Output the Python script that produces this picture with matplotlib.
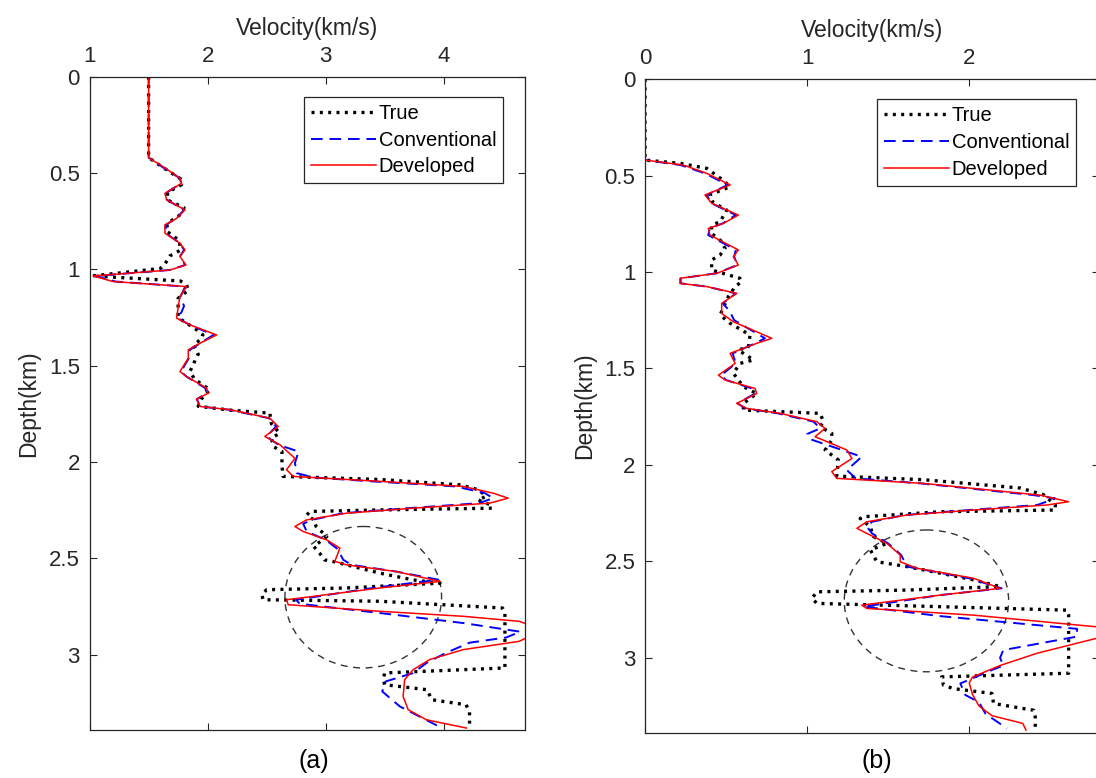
import matplotlib
matplotlib.use("Agg")
import matplotlib.pyplot as plt
from matplotlib.patches import Ellipse

plt.rcParams['font.family'] = ['Liberation Sans', 'DejaVu Sans']

# ---- panel (a) ----
true_a_depth = [0, 0.42, 0.47, 0.53, 0.56, 0.60, 0.64, 0.68, 0.72, 0.76, 0.80, 0.85, 0.90, 0.93, 0.97, 0.995,
                1.034, 1.06, 1.08, 1.106, 1.15, 1.25, 1.31, 1.34, 1.365, 1.39, 1.44, 1.49, 1.53, 1.57, 1.625,
                1.67, 1.71, 1.73, 1.746, 1.763, 1.80, 1.85, 1.876, 1.92, 1.945, 2.02, 2.074, 2.09, 2.118,
                2.144, 2.178, 2.196, 2.222, 2.239, 2.248, 2.256, 2.274, 2.30, 2.334, 2.386, 2.438, 2.473,
                2.507, 2.515, 2.576, 2.611, 2.628, 2.653, 2.662, 2.688, 2.714, 2.722, 2.757, 2.783, 3.068,
                3.094, 3.129, 3.155, 3.181, 3.233, 3.259, 3.294, 3.37]
true_a_vel = [1.5, 1.5, 1.62, 1.77, 1.78, 1.66, 1.66, 1.80, 1.76, 1.66, 1.65, 1.76, 1.77, 1.68, 1.64, 1.60,
              1.02, 1.77, 1.82, 1.84, 1.75, 1.75, 1.90, 1.96, 1.94, 1.88, 1.92, 1.88, 1.85, 1.89, 2.02,
              1.95, 1.92, 2.19, 2.53, 2.53, 2.54, 2.61, 2.54, 2.56, 2.63, 2.63, 2.64, 3.46, 4.14,
              4.30, 4.36, 4.29, 4.40, 4.41, 3.46, 2.87, 2.84, 2.90, 2.92, 3.01, 2.90, 2.95,
              2.99, 3.06, 3.46, 3.74, 3.97, 3.18, 2.50, 2.46, 2.47, 3.46, 4.50, 4.52, 4.52,
              3.50, 3.49, 3.50, 3.86, 3.90, 4.19, 4.22, 4.22]

conv_a_depth = [0, 0.42, 0.47, 0.527, 0.553, 0.605, 0.639, 0.691, 0.735, 0.769, 0.812, 0.864, 0.899, 0.933,
                0.977, 1.003, 1.034, 1.063, 1.089, 1.141, 1.19, 1.22, 1.253, 1.288, 1.340, 1.374, 1.417,
                1.461, 1.530, 1.556, 1.616, 1.642, 1.673, 1.711, 1.728, 1.772, 1.815, 1.867, 1.910, 1.945,
                2.005, 2.057, 2.08, 2.100, 2.126, 2.161, 2.187, 2.213, 2.239, 2.265, 2.300, 2.32, 2.360,
                2.403, 2.45, 2.507, 2.533, 2.568, 2.61, 2.653, 2.714, 2.735, 2.783, 2.835, 2.88, 2.91,
                2.937, 2.99, 3.04, 3.095, 3.138, 3.19, 3.268, 3.37]
conv_a_vel = [1.5, 1.5, 1.62, 1.765, 1.775, 1.645, 1.655, 1.80, 1.735, 1.645, 1.645, 1.765, 1.80, 1.765,
              1.81, 1.68, 1.05, 1.22, 1.81, 1.77, 1.80, 1.78, 1.745, 1.85, 2.05, 1.96, 1.85,
              1.84, 1.775, 1.82, 1.98, 1.99, 1.91, 1.935, 2.18, 2.52, 2.58, 2.50, 2.60, 2.77,
              2.74, 2.755, 2.9, 3.40, 4.10, 4.35, 4.42, 4.30, 3.70, 3.15, 2.88, 2.81, 2.84,
              3.00, 3.10, 3.15, 3.22, 3.60, 3.955, 3.40, 2.75, 2.78, 3.46, 4.166, 4.65, 4.53,
              4.22, 4.02, 3.86, 3.74, 3.51, 3.48, 3.63, 3.955]

dev_a_depth = [0, 0.42, 0.47, 0.527, 0.553, 0.605, 0.639, 0.691, 0.735, 0.769, 0.812, 0.864, 0.899, 0.933,
               0.977, 1.003, 1.034, 1.063, 1.089, 1.141, 1.193, 1.253, 1.288, 1.340, 1.374, 1.417, 1.461,
               1.530, 1.556, 1.616, 1.642, 1.673, 1.711, 1.728, 1.772, 1.815, 1.867, 1.910, 1.980, 2.039,
               2.074, 2.100, 2.126, 2.161, 2.187, 2.213, 2.239, 2.265, 2.300, 2.334, 2.360, 2.403, 2.446,
               2.515, 2.533, 2.568, 2.619, 2.653, 2.714, 2.740, 2.774, 2.800, 2.826, 2.87, 2.93, 2.973,
               3.025, 3.078, 3.129, 3.216, 3.285, 3.337, 3.380]
dev_a_vel = [1.5, 1.5, 1.63, 1.765, 1.78, 1.638, 1.652, 1.808, 1.737, 1.638, 1.638, 1.765, 1.808, 1.765,
             1.816, 1.68, 1.03, 1.2, 1.822, 1.765, 1.751, 1.737, 1.85, 2.076, 1.963, 1.836, 1.836,
             1.765, 1.822, 1.991, 2.005, 1.906, 1.935, 2.189, 2.528, 2.598, 2.485, 2.613, 2.74, 2.669,
             2.726, 3.46, 4.166, 4.42, 4.547, 4.39, 3.74, 3.177, 2.838, 2.74, 2.81, 3.008, 3.121,
             3.078, 3.177, 3.6, 3.969, 3.46, 2.669, 2.683, 3.46, 4.166, 4.64, 4.85, 4.64, 4.166,
             3.88, 3.74, 3.67, 3.657, 3.70, 3.855, 4.194]

# ---- panel (b) ----
true_b_depth = [0, 0.42, 0.437, 0.463, 0.532, 0.56, 0.60, 0.64, 0.679, 0.740, 0.757, 0.80, 0.84, 0.878, 0.912,
                0.938, 0.990, 1.033, 1.050, 1.076, 1.128, 1.223, 1.266, 1.327, 1.387, 1.405, 1.456, 1.474,
                1.525, 1.595, 1.630, 1.681, 1.716, 1.733, 1.776, 1.802, 1.837, 1.872, 1.923, 1.975, 2.058,
                2.077, 2.12, 2.155, 2.208, 2.234, 2.243, 2.269, 2.278, 2.32, 2.372, 2.407, 2.441, 2.502,
                2.527, 2.596, 2.631, 2.649, 2.658, 2.692, 2.718, 2.735, 2.753, 2.779, 3.08, 3.099, 3.142,
                3.16, 3.185, 3.237, 3.272, 3.306, 3.375]
true_b_vel = [0, 0, 0.216, 0.381, 0.494, 0.52, 0.40, 0.42, 0.504, 0.463, 0.411, 0.41, 0.47, 0.494, 0.463,
              0.411, 0.411, 0.586, 0.597, 0.556, 0.514, 0.463, 0.525, 0.648, 0.638, 0.576, 0.669, 0.586,
              0.545, 0.607, 0.689, 0.607, 0.607, 1.08, 1.101, 1.08, 1.152, 1.152, 1.111, 1.193, 1.183,
              1.718, 2.315, 2.459, 2.531, 2.531, 1.821, 1.348, 1.327, 1.389, 1.41, 1.492, 1.39, 1.43,
              1.615, 2.027, 2.19, 1.615, 1.06, 1.03, 1.06, 1.821, 2.603, 2.613, 2.613, 1.83, 1.841,
              1.903, 2.14, 2.15, 2.397, 2.407, 2.407]

conv_b_depth = [0, 0.42, 0.446, 0.489, 0.549, 0.601, 0.644, 0.705, 0.748, 0.774, 0.809, 0.886, 0.921, 0.964,
                1.007, 1.033, 1.059, 1.076, 1.111, 1.163, 1.20, 1.25, 1.344, 1.370, 1.422, 1.474, 1.535,
                1.560, 1.604, 1.630, 1.681, 1.707, 1.733, 1.776, 1.811, 1.84, 1.87, 1.958, 2.027, 2.07,
                2.096, 2.157, 2.174, 2.208, 2.234, 2.260, 2.295, 2.32, 2.355, 2.407, 2.467, 2.527, 2.588,
                2.640, 2.675, 2.735, 2.784, 2.85, 2.89, 2.96, 3.0, 3.04, 3.06, 3.133, 3.193, 3.23, 3.29,
                3.366]
conv_b_vel = [0, 0, 0.22, 0.37, 0.51, 0.38, 0.41, 0.56, 0.48, 0.40, 0.39, 0.56, 0.55, 0.57,
              0.44, 0.22, 0.22, 0.38, 0.56, 0.48, 0.52, 0.55, 0.74, 0.68, 0.54, 0.56, 0.47,
              0.50, 0.66, 0.68, 0.57, 0.62, 0.82, 1.04, 1.08, 1.00, 1.03, 1.337, 1.245, 1.30,
              1.70, 2.40, 2.53, 2.42, 2.00, 1.60, 1.40, 1.368, 1.40, 1.50, 1.58, 1.615, 2.00,
              2.20, 1.82, 1.348, 1.821, 2.665, 2.665, 2.21, 2.19, 2.21, 2.15, 1.945, 1.976, 2.06, 2.10,
              2.232]

dev_b_depth = [0, 0.42, 0.446, 0.489, 0.549, 0.601, 0.644, 0.705, 0.748, 0.774, 0.809, 0.886, 0.921, 0.964,
               1.007, 1.033, 1.059, 1.076, 1.111, 1.163, 1.215, 1.258, 1.344, 1.370, 1.422, 1.474, 1.535,
               1.560, 1.604, 1.630, 1.681, 1.707, 1.733, 1.776, 1.811, 1.854, 1.923, 1.967, 2.035, 2.07,
               2.096, 2.157, 2.191, 2.208, 2.234, 2.260, 2.295, 2.329, 2.355, 2.407, 2.467, 2.502, 2.536,
               2.588, 2.640, 2.675, 2.727, 2.744, 2.779, 2.839, 2.87, 2.90, 2.976, 3.04, 3.10, 3.13,
               3.19, 3.25, 3.30, 3.34, 3.375]
dev_b_vel = [0, 0, 0.237, 0.381, 0.525, 0.37, 0.411, 0.576, 0.484, 0.391, 0.401, 0.576, 0.545, 0.576,
             0.443, 0.216, 0.216, 0.381, 0.566, 0.473, 0.473, 0.545, 0.782, 0.689, 0.525, 0.556, 0.453,
             0.494, 0.679, 0.689, 0.566, 0.627, 0.833, 1.06, 1.11, 1.049, 1.245, 1.276, 1.152, 1.183,
             1.718, 2.438, 2.613, 2.479, 2.027, 1.615, 1.368, 1.307, 1.368, 1.492, 1.574, 1.574, 1.677,
             2.027, 2.19, 1.821, 1.337, 1.368, 2.027, 2.78, 2.95, 2.78, 2.42, 2.19, 2.02, 2.0,
             2.02, 2.06, 2.14, 2.33, 2.35]

xlims = [(1, 4.69), (0, 2.8)]
xticks = [[1, 2, 3, 4], [0, 1, 2]]
yticks = [0, 0.5, 1, 1.5, 2, 2.5, 3]
ytick_labels = ['0', '0.5', '1', '1.5', '2', '2.5', '3']
circles = [(3.319, 2.701, 1.328, 0.734), (1.736, 2.705, 1.014, 0.735)]
captions = ['(a)', '(b)']

fig = plt.figure(figsize=(10.96, 7.78), dpi=100)
axes = [fig.add_axes([0.0818, 0.0617, 0.3972, 0.8397]),
        fig.add_axes([0.5885, 0.0578, 0.4142, 0.8406])]

panels = [(true_a_depth, true_a_vel, conv_a_depth, conv_a_vel, dev_a_depth, dev_a_vel),
          (true_b_depth, true_b_vel, conv_b_depth, conv_b_vel, dev_b_depth, dev_b_vel)]

edge = '#262626'
for i, ax in enumerate(axes):
    td, tv, cd, cv, dd, dv = panels[i]
    ax.plot(tv, td, color='black', linestyle=(0, (0.9, 1.6)), linewidth=2.4, label='True')
    ax.plot(cv, cd, color='#0000ff', linestyle=(0, (6, 3.5)), linewidth=1.4, label='Conventional')
    ax.plot(dv, dd, color='#ff0000', linewidth=1.1, label='Developed')

    cx, cy, w, h = circles[i]
    ax.add_patch(Ellipse((cx, cy), w, h, fill=False, edgecolor='#333333',
                         linestyle=(0, (5, 4)), linewidth=1.0))

    ax.set_xlim(*xlims[i])
    ax.set_ylim(3.39, 0)
    ax.set_xticks(xticks[i])
    ax.set_yticks(yticks)
    ax.set_yticklabels(ytick_labels)
    ax.xaxis.set_label_position('top')
    ax.tick_params(axis='both', direction='in', length=5, width=0.8, color=edge,
                   top=True, bottom=True, left=True, right=True,
                   labeltop=True, labelbottom=False, labelsize=16, pad=7, labelcolor='#262626')
    ax.set_xlabel('Velocity(km/s)', fontsize=16.5, labelpad=8, color='#262626')
    ax.set_ylabel('Depth(km)', fontsize=16.5, labelpad=6, color='#262626')
    for s in ax.spines.values():
        s.set_color(edge)
        s.set_linewidth(0.9)

    leg = ax.legend(loc='upper right', bbox_to_anchor=(0.95, 0.969), borderaxespad=0,
                    fontsize=14.5, handlelength=3.2, handletextpad=0.15, labelspacing=0.38,
                    borderpad=0.35, fancybox=False, framealpha=1, edgecolor='#262626')
    leg.get_frame().set_linewidth(0.9)

fig.text(0.286, 0.022, captions[0], fontsize=18, ha='center', va='center')
fig.text(0.80, 0.022, captions[1], fontsize=18, ha='center', va='center')

fig.savefig('out.png', dpi=100)
